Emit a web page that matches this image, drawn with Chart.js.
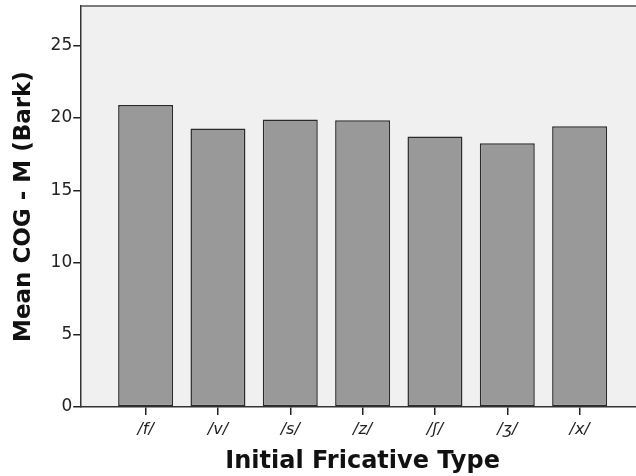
<!DOCTYPE html>
<html>
<head>
<meta charset="utf-8">
<script src="https://cdn.jsdelivr.net/npm/chart.js@4"></script>
<style>
  html, body { margin: 0; padding: 0; background: #ffffff; overflow: hidden; }
  #wrap { width: 636px; height: 476px; overflow: hidden; }
  #box { width: 644px; height: 476px; }
</style>
</head>
<body>
<div id="wrap"><div id="box"><canvas id="cog"></canvas></div></div>
<script>
// fricative categories and mean COG (Bark)
const categories = ['/f/', '/v/', '/s/', '/z/', '/ʃ/', '/ʒ/', '/x/'];
const meanCog = [20.9, 19.28, 19.9, 19.85, 18.72, 18.26, 19.44];
const yTicks = [0, 5, 10, 15, 20, 25];

const font = "'DejaVu Sans', sans-serif";

// plot background + top frame line
const frame = {
    id: 'frame',
    beforeDraw(chart) {
        const a = chart.chartArea;
        const ctx = chart.ctx;
        ctx.save();
        ctx.fillStyle = '#f0f0f0';
        ctx.fillRect(a.left, a.top, a.right - a.left, a.bottom - a.top);
        ctx.strokeStyle = '#7a7a7a';
        ctx.lineWidth = 2;
        ctx.beginPath();
        ctx.moveTo(a.left, a.top);
        ctx.lineTo(a.right, a.top);
        ctx.stroke();
        ctx.restore();
    }
};

new Chart(document.getElementById('cog'), {
    type: 'bar',
    plugins: [frame],
    data: {
        datasets: [{
            data: meanCog.map((v, i) => ({ x: i, y: v })),
            backgroundColor: '#999999',
            borderColor: '#2a2a2a',
            borderWidth: 1.5,
            borderSkipped: false,
            categoryPercentage: 1,
            barPercentage: 0.76
        }]
    },
    options: {
        responsive: true,
        maintainAspectRatio: false,
        animation: false,
        layout: { padding: { top: 1, right: 0, left: 10, bottom: 0 } },
        plugins: {
            legend: { display: false },
            tooltip: { enabled: false }
        },
        scales: {
            x: {
                type: 'linear',
                offset: false,
                min: -0.89,
                max: 6.89,
                afterBuildTicks: (axis) => {
                    axis.ticks = categories.map((c, i) => ({ value: i }));
                },
                ticks: {
                    includeBounds: false,
                    callback: (v) => categories[v],
                    font: { family: font, size: 16, style: 'italic' },
                    color: '#222',
                    padding: 5,
                    maxRotation: 0,
                    autoSkip: false
                },
                grid: {
                    offset: false,
                    drawOnChartArea: false,
                    drawTicks: true,
                    tickLength: 8,
                    color: '#222',
                    lineWidth: 1.5
                },
                border: { color: '#333', width: 1.5 },
                title: {
                    display: true,
                    text: 'Initial Fricative Type',
                    font: { family: font, size: 24, weight: 'bold' },
                    color: '#111',
                    padding: { top: 3, bottom: 0 }
                }
            },
            y: {
                min: 0,
                max: 27.75,
                afterBuildTicks: (axis) => {
                    axis.ticks = yTicks.map(v => ({ value: v }));
                },
                ticks: {
                    includeBounds: false,
                    font: { family: font, size: 17, lineHeight: 0.6 },
                    color: '#222',
                    padding: 1
                },
                grid: {
                    drawOnChartArea: false,
                    drawTicks: true,
                    tickLength: 8,
                    color: '#222',
                    lineWidth: 1.5
                },
                border: { color: '#333', width: 1.5 },
                title: {
                    display: true,
                    text: 'Mean COG - M (Bark)',
                    font: { family: font, size: 23, weight: 'bold' },
                    color: '#111',
                    padding: { top: 0, bottom: 12 }
                }
            }
        }
    }
});
</script>
</body>
</html>
